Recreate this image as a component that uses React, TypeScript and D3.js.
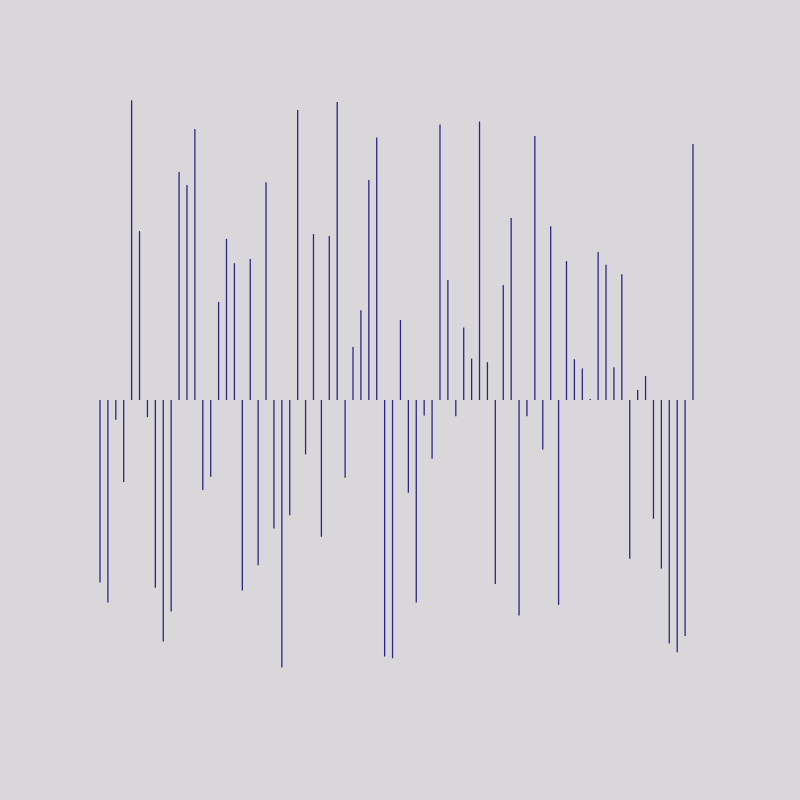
import React from "react";
import * as d3 from "d3";

const values: number[] = [
  -60.8, -67.5, -6.6, -27.3, 99.9, 56.3, -5.7, -62.6, -80.5, -70.5,
  76, 71.7, 90.3, -30, -25.6, 32.7, 53.7, 45.6, -63.5, 47,
  -55.1, 72.6, -42.8, -89.2, -38.4, 96.7, -18.1, 55.3, -45.6, 54.7,
  99.3, -25.9, 17.7, 29.9, 73.3, 87.5, -85.5, -86.1, 26.7, -30.9,
  -67.5, -5.2, -19.6, 91.8, 40, -5.4, 24.2, 13.8, 92.8, 12.6,
  -61.3, 38.3, 60.7, -71.8, -5.4, 88, -16.5, 57.9, -68.3, 46.3,
  13.6, 10.5, 0.3, 49.3, 45.1, 10.9, 41.9, -52.9, 3.3, 8,
  -39.6, -56.2, -81.2, -84.1, -78.7, 85.3,
];
const indices: number[] = values.map((_, i) => i);

const W = 800;
const H = 800;

export default function App() {
  const x = d3.scalePoint<number>().domain(indices).range([100, 693]);
  const y = d3.scaleLinear().domain([-100, 100]).range([700, 100]);
  return (
    <svg
      width={W}
      height={H}
      style={{ position: "fixed", left: 0, top: 0, display: "block" }}
    >
      <rect x={0} y={0} width={W} height={H} fill="#d9d7da" />
      <g stroke="#2c2882" strokeWidth={1.3}>
        {values.map((v, i) => (
          <line key={i} x1={x(i)} x2={x(i)} y1={y(0)} y2={y(v)} />
        ))}
      </g>
    </svg>
  );
}
